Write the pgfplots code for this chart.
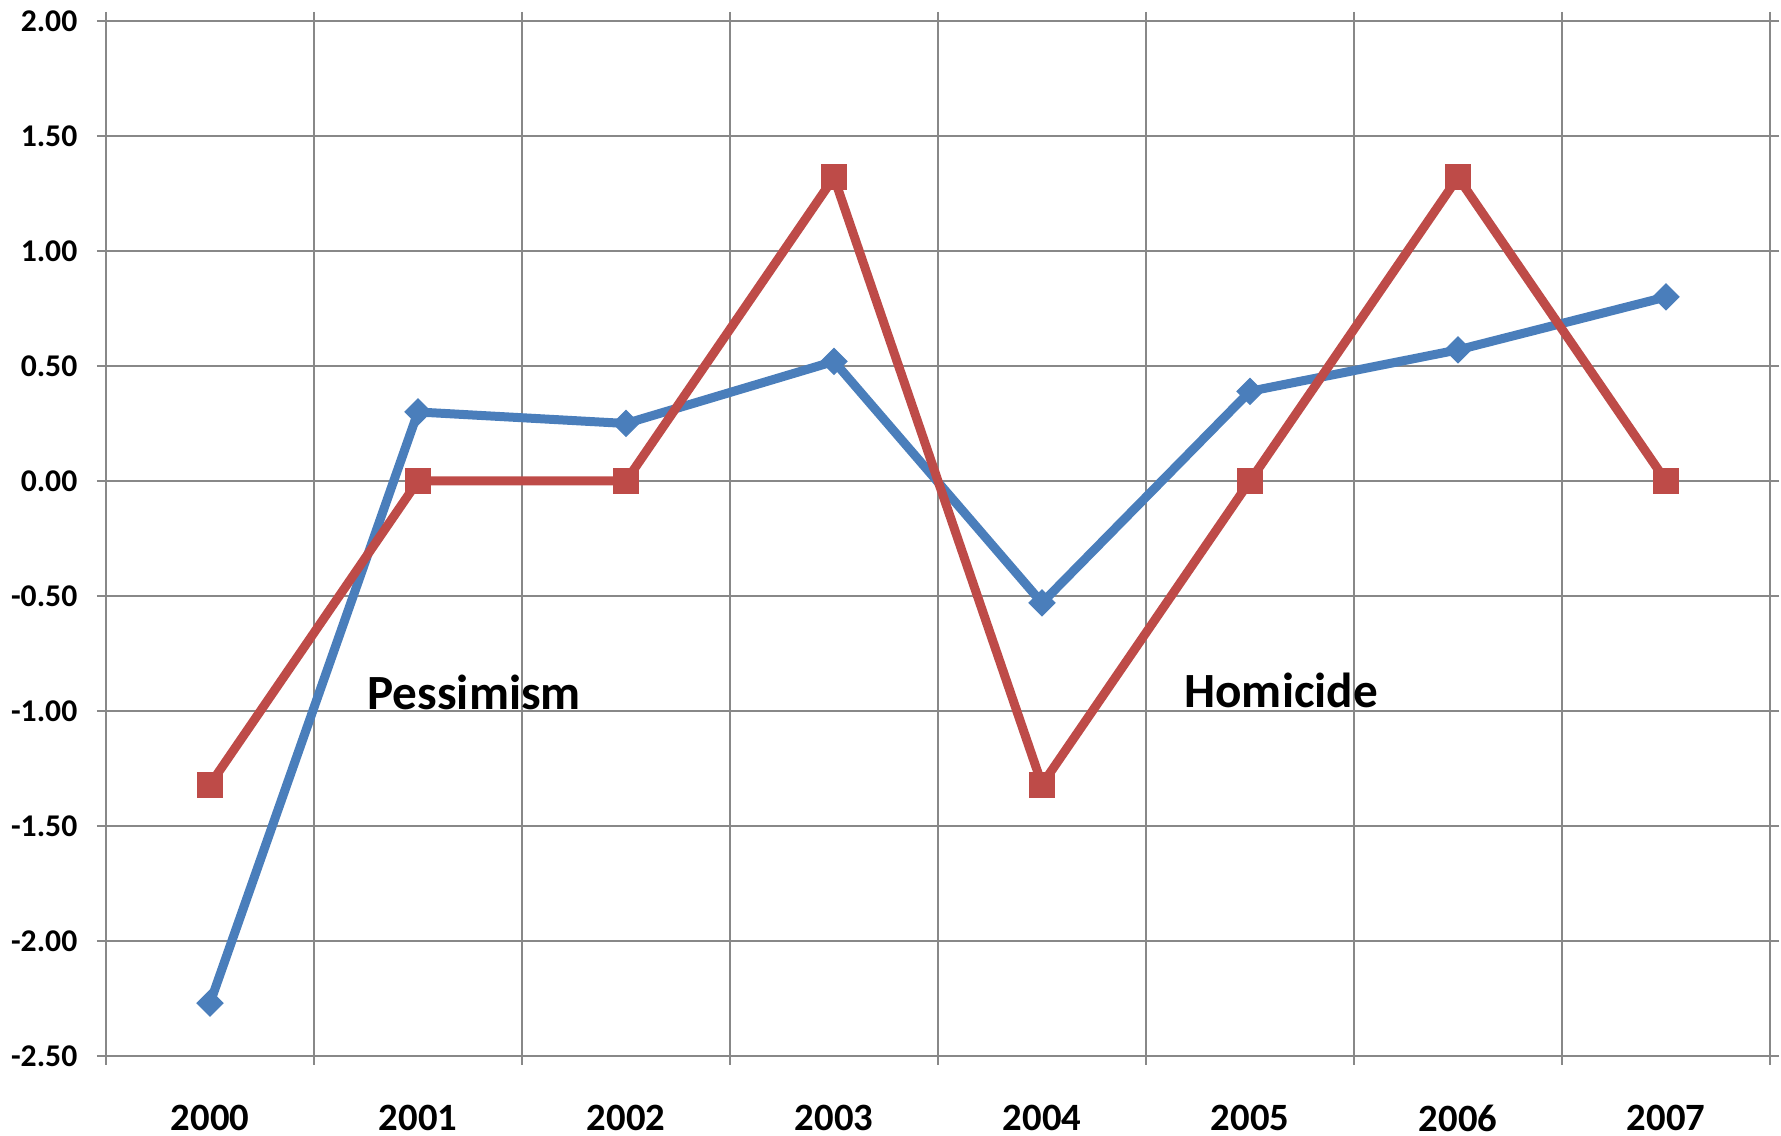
\documentclass[border=0pt]{standalone}
\usepackage{fontspec}
\setmainfont{Carlito}
\usepackage{pgfplots}
\pgfplotsset{compat=1.18}
\definecolor{exblue}{HTML}{4A7EBB}
\definecolor{exred}{HTML}{BE4B48}
\definecolor{gridgray}{HTML}{888888}
\begin{document}
\begin{tikzpicture}
\begin{axis}[
  scale only axis, width=166.4mm, height=103.5mm,
  xmin=-0.5, xmax=7.5, ymin=-2.5, ymax=2.0,
  xtick={0,1,2,3,4,5,6,7},
  xticklabels={2000,2001,2002,2003,2004,2005,2006,2007},
  minor xtick={-0.5,0.5,1.5,2.5,3.5,4.5,5.5,6.5,7.5},
  ytick={-2.5,-2,-1.5,-1,-0.5,0,0.5,1,1.5,2},
  minor ytick={-2.5,-2,-1.5,-1,-0.5,0,0.5,1,1.5,2},
  yticklabels={-2.50,-2.00,-1.50,-1.00,-0.50,0.00,0.50,1.00,1.50,2.00},
  xminorgrids, ymajorgrids,
  tick align=outside,
  major tick length=0pt, minor tick length=0.9mm,
  every tick/.style={draw=gridgray, line width=0.57pt},
  grid style={draw=gridgray, line width=0.57pt},
  minor grid style={draw=gridgray, line width=0.57pt},
  axis line style={draw=gridgray, line width=0.57pt},
  yticklabel style={font=\bfseries\fontsize{9}{10}\selectfont, inner sep=0pt, xshift=-2.8mm},
  xticklabel style={font=\bfseries\fontsize{11}{12}\selectfont, inner sep=0pt, anchor=north, yshift=-4.8mm},
  clip=false,
]
\addplot[color=exblue, line width=2.56pt, mark=square*, mark size=0.92mm,
  mark options={rotate=45, fill=exblue, draw=exblue, line width=0.3pt}]
  coordinates {(0,-2.27) (1,0.30) (2,0.25) (3,0.52) (4,-0.53) (5,0.39) (6,0.57) (7,0.80)};
\addplot[color=exred, line width=2.56pt, mark=square*, mark size=1.25mm,
  mark options={fill=exred, draw=exred, line width=0.3pt}]
  coordinates {(0,-1.32) (1,0) (2,0) (3,1.32) (4,-1.32) (5,0) (6,1.32) (7,0)};
\node[font=\bfseries\fontsize{14}{16}\selectfont] at (axis cs:1.27,-0.92) {Pessimism};
\node[font=\bfseries\fontsize{14}{16}\selectfont] at (axis cs:5.15,-0.91) {Homicide};
\end{axis}
\path (current axis.south west) ++(-10.6mm,-8.0mm) coordinate (bl);
\path (current axis.north east) ++(1.1mm,2.1mm) coordinate (tr);
\pgfresetboundingbox
\useasboundingbox (bl) rectangle (tr);
\end{tikzpicture}
\end{document}
